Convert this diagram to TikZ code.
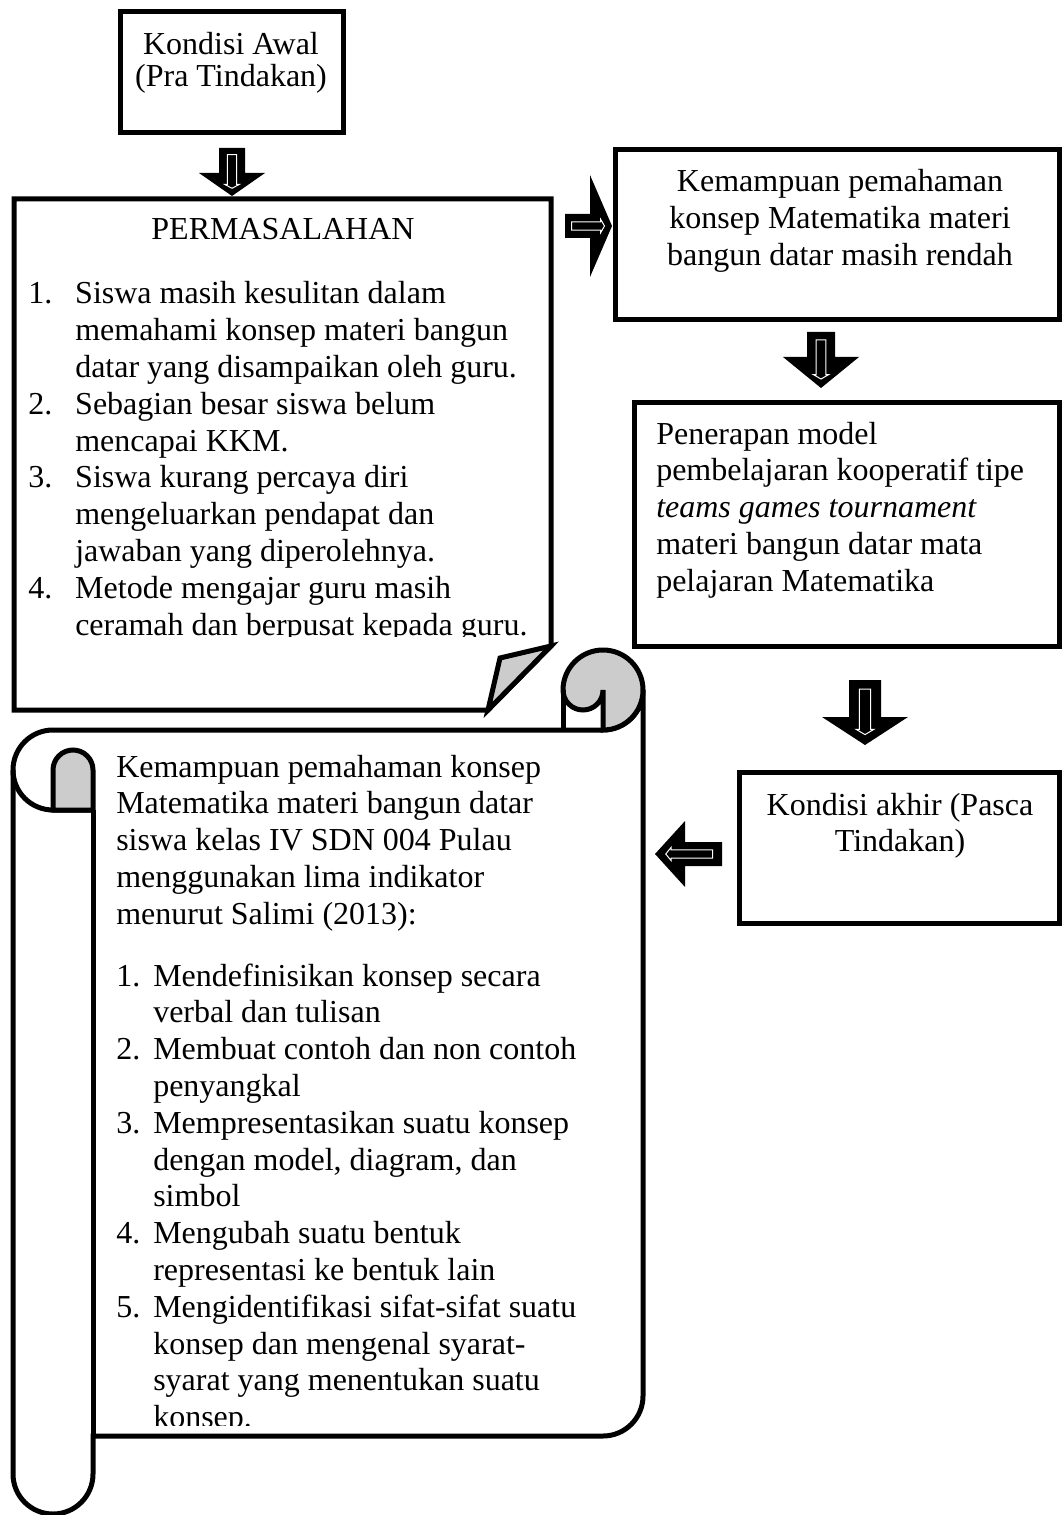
\documentclass[tikz,border=0pt]{standalone}
\usepackage{fontspec}
\setmainfont{Liberation Serif}
\usetikzlibrary{calc}

% striped block arrow: tail, angle, length, shaft half width, head half width, head length
\newcommand{\stripedarrow}[6]{%
  \begin{scope}[shift={#1}, rotate=#2]
    \fill[black] (0,-#4) -- ({#3-#6},-#4) -- ({#3-#6},-#5) -- (#3,0) -- ({#3-#6},#5) -- ({#3-#6},#4) -- (0,#4) -- cycle;
    \draw[white, line width=0.75pt] ({0.14*#3},{-0.35*#4}) -- ({0.76*#3},{-0.35*#4}) -- ({0.76*#3},{-0.55*#4}) -- ({0.84*#3},0) -- ({0.76*#3},{0.55*#4}) -- ({0.76*#3},{0.35*#4}) -- ({0.14*#3},{0.35*#4}) -- cycle;
  \end{scope}}

\begin{document}
\begin{tikzpicture}[x=0.75pt,y=-0.75pt]
\tikzstyle{box}=[draw, line width=3.75pt]
\tikzstyle{curl}=[box, fill=black!20]
\tikzstyle{txt}=[inner sep=0pt, anchor=base west, font=\fontsize{24}{27.6}\selectfont]
\tikzstyle{ctxt}=[txt, anchor=base]

\useasboundingbox (0,0) rectangle (1062,1515);

  % boxes
  \draw[box] (120,12) rectangle (343,133);
  \draw[box] (14,199) -- (551,199) -- (551,646) -- (488,710) -- (14,710) -- cycle;
  \draw[curl] (551,646) -- (500,658) -- (488,710) -- cycle;
  \draw[box] (615,150) rectangle (1059,320);
  \draw[box] (634,402) rectangle (1059,646);
  \draw[box] (739,772) rectangle (1059,923);

  % scroll
  \draw[box] (13,770) arc[start angle=180, end angle=270, radius=40] -- (603,730)
    arc[start angle=90, end angle=0, radius=40] -- (643,1396)
    arc[start angle=0, end angle=90, radius=40] -- (93,1436) -- (93,1474)
    arc[start angle=0, end angle=180, radius=40] -- cycle;
  \draw[curl] (603,730) -- (603,690) arc[start angle=0, end angle=180, radius=20]
    arc[start angle=180, end angle=360, radius=40] arc[start angle=0, end angle=90, radius=40] -- cycle;
  \draw[box] (563,690) -- (563,730);
  \draw[box] (13,770) arc[start angle=180, end angle=90, radius=40] -- (93,810);
  \draw[curl] (53,810) -- (53,770) arc[start angle=180, end angle=360, radius=20] -- (93,810) -- cycle;
  \draw[box] (93,810) -- (93,1436);

  % arrows
  \stripedarrow{(232,148)}{-90}{48}{13}{33}{23}
  \stripedarrow{(565,226)}{0}{47}{12}{51}{22}
  \stripedarrow{(821,332)}{-90}{56}{14}{38}{31}
  \stripedarrow{(865,680)}{-90}{65}{16}{43}{28}
  \stripedarrow{(722,854)}{180}{67}{12}{33}{30}

  % texts
  \node[ctxt, font=\fontsize{24}{24}\selectfont] (awal) at (231,55) {\begin{tabular}[t]{@{}c@{}}Kondisi Awal\\(Pra Tindakan)\end{tabular}};
  \node[ctxt] (masalah) at (283,240) {PERMASALAHAN};
  \begin{scope}
    \clip (0,0) rectangle (1062,636);
    \node[txt] (daftar) at (28,304) {\begin{tabular}[t]{@{}p{35.25pt}@{}l@{}}
      1. & Siswa masih kesulitan dalam\\
         & memahami konsep materi bangun\\
         & datar yang disampaikan oleh guru.\\
      2. & Sebagian besar siswa belum\\
         & mencapai KKM.\\
      3. & Siswa kurang percaya diri\\
         & mengeluarkan pendapat dan\\
         & jawaban yang diperolehnya.\\
      4. & Metode mengajar guru masih\\
         & ceramah dan berpusat kepada guru.
    \end{tabular}};
  \end{scope}
  \node[ctxt] (rendah) at (840,192) {\begin{tabular}[t]{@{}c@{}}Kemampuan pemahaman\\konsep Matematika materi\\bangun datar masih rendah\end{tabular}};
  \node[txt] (model) at (656,444) {\begin{tabular}[t]{@{}l@{}}Penerapan model\\pembelajaran kooperatif tipe\\\textit{teams games tournament}\\materi bangun datar mata\\pelajaran Matematika\end{tabular}};
  \node[ctxt] (akhir) at (900,815) {\begin{tabular}[t]{@{}c@{}}Kondisi akhir (Pasca\\Tindakan)\end{tabular}};
  \node[txt] (indikator) at (116,777) {\begin{tabular}[t]{@{}l@{}}Kemampuan pemahaman konsep\\Matematika materi bangun datar\\siswa kelas IV SDN 004 Pulau\\menggunakan lima indikator\\menurut Salimi (2013):\end{tabular}};
  \begin{scope}
    \clip (0,0) rectangle (1062,1425);
    \node[txt] (lima) at (116,986) {\begin{tabular}[t]{@{}p{27.75pt}@{}l@{}}
      1. & Mendefinisikan konsep secara\\
         & verbal dan tulisan\\
      2. & Membuat contoh dan non contoh\\
         & penyangkal\\
      3. & Mempresentasikan suatu konsep\\
         & dengan model, diagram, dan\\
         & simbol\\
      4. & Mengubah suatu bentuk\\
         & representasi ke bentuk lain\\
      5. & Mengidentifikasi sifat-sifat suatu\\
         & konsep dan mengenal syarat-\\
         & syarat yang menentukan suatu\\
         & konsep.
    \end{tabular}};
  \end{scope}

\end{tikzpicture}
\end{document}
